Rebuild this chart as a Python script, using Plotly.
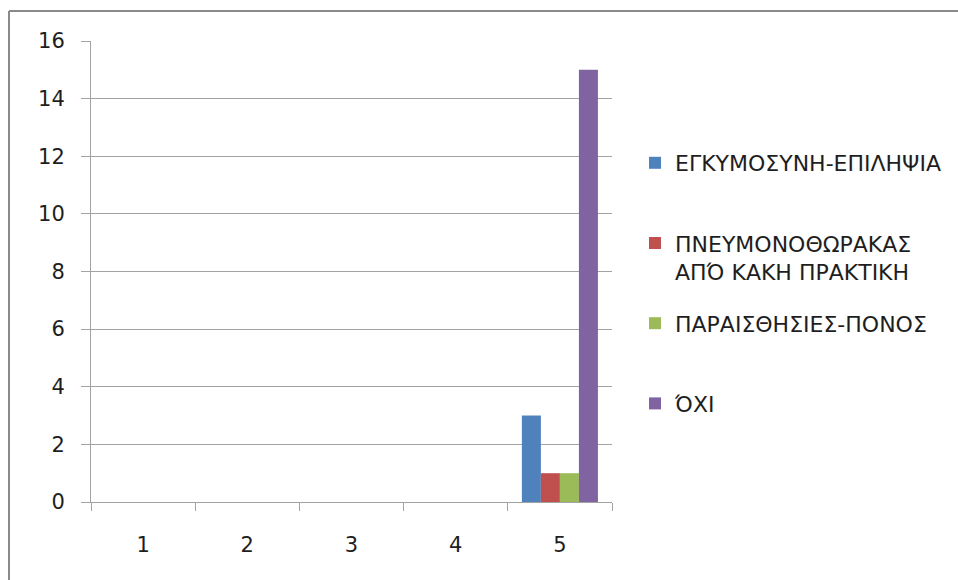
import plotly.graph_objects as go

# Categories and series values
categories = ["1", "2", "3", "4", "5"]
series_names = [
    "ΕΓΚΥΜΟΣΥΝΗ-ΕΠΙΛΗΨΙΑ",
    "ΠΝΕΥΜΟΝΟΘΩΡΑΚΑΣ<br>ΑΠΌ ΚΑΚΗ ΠΡΑΚΤΙΚΗ",
    "ΠΑΡΑΙΣΘΗΣΙΕΣ-ΠΟΝΟΣ",
    "ΌΧΙ",
]
series_values = [
    [0, 0, 0, 0, 3],
    [0, 0, 0, 0, 1],
    [0, 0, 0, 0, 1],
    [0, 0, 0, 0, 15],
]
series_colors = ["#4F81BD", "#C0504D", "#9BBB59", "#8064A2"]
y_ticks = [0, 2, 4, 6, 8, 10, 12, 14, 16]

W, H = 958, 580
ML, MR, MT, MB = 91, 346, 41, 78
FONT = "DejaVu Sans"
TICK_SIZE = 21
LEGEND_SIZE = 22
TEXT = "#1e1e1e"
GRID = "#a3a3a3"

fig = go.Figure()
for i, (name, vals, col) in enumerate(zip(series_names, series_values, series_colors)):
    # pad single-line entries so every legend entry has the same height
    label = name if "<br>" in name or i == len(series_names) - 1 else name + "<br> "
    fig.add_trace(go.Bar(
        x=categories, y=vals, name=label, marker_color=col,
        marker_line_width=0, legendgroup=str(i),
    ))

# outer frame: top and left edges
pw = W - ML - MR
ph = H - MT - MB
def px_x(p):
    return (p - ML) / pw
def px_y(p):
    return 1 - (p - MT) / ph

frame = dict(color="#8a8a8a", width=2)
fig.add_shape(type="line", xref="paper", yref="paper",
              x0=px_x(9), x1=px_x(W + 5), y0=px_y(11), y1=px_y(11), line=frame)
fig.add_shape(type="line", xref="paper", yref="paper",
              x0=px_x(9), x1=px_x(9), y0=px_y(11), y1=px_y(H + 5), line=frame)

fig.update_layout(
    width=W, height=H,
    margin=dict(l=ML, r=MR, t=MT, b=MB, autoexpand=False),
    paper_bgcolor="white", plot_bgcolor="white",
    barmode="group", bargap=0.27, bargroupgap=0,
    font=dict(family=FONT, size=TICK_SIZE, color=TEXT),
    showlegend=True,
    legend=dict(
        x=px_x(635), xanchor="left", y=px_y(142), yanchor="top",
        valign="top", tracegroupgap=20, itemsizing="constant",
        font=dict(family=FONT, size=LEGEND_SIZE, color=TEXT),
        bgcolor="rgba(0,0,0,0)",
    ),
)
fig.update_xaxes(
    type="category", showgrid=False, showline=True, linecolor=GRID, linewidth=1,
    ticks="outside", tickson="boundaries", ticklen=8, tickcolor=GRID,
    ticklabelstandoff=24, zeroline=False,
)
fig.update_yaxes(
    range=[0, 16], tickvals=y_ticks, showgrid=True, gridcolor=GRID, gridwidth=1,
    showline=True, linecolor=GRID, linewidth=1, ticks="outside", ticklen=9,
    tickcolor=GRID, ticklabelstandoff=12, zeroline=False,
)

fig.write_html("out.html")
